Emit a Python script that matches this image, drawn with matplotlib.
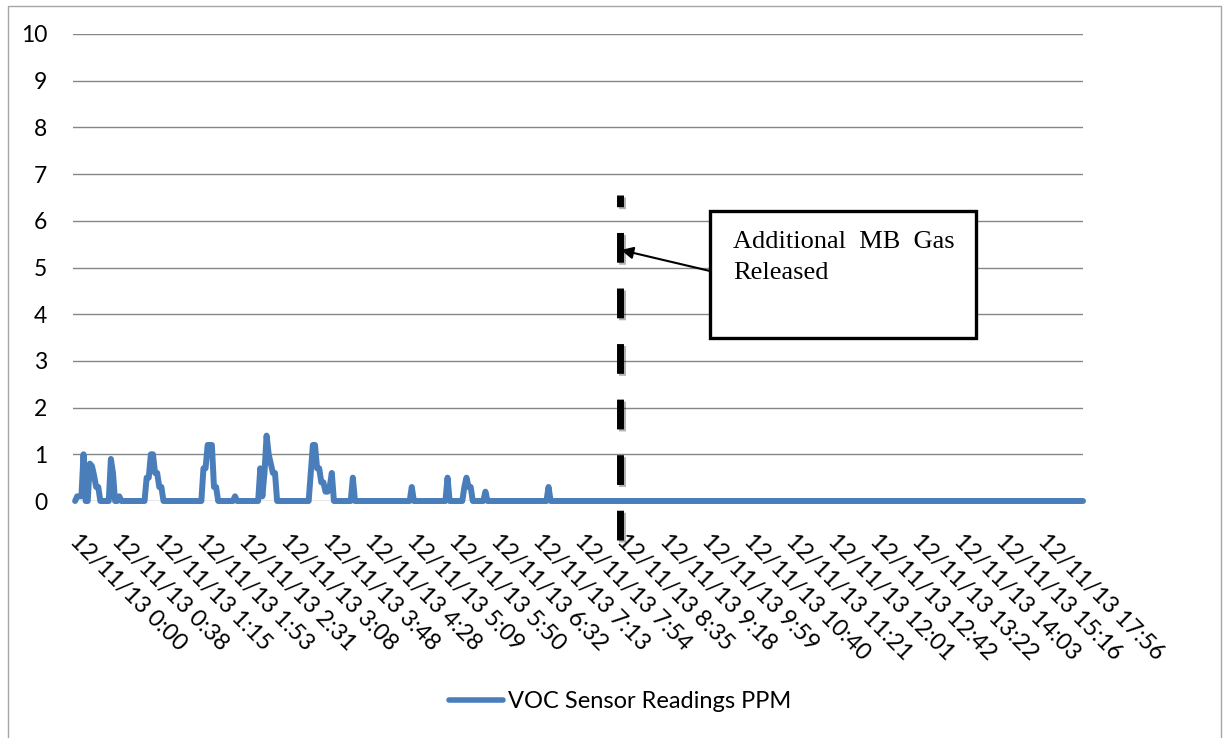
import numpy as np
import matplotlib
matplotlib.use('Agg')
import matplotlib.pyplot as plt
import matplotlib.patheffects as pe
from matplotlib.patches import Rectangle
from matplotlib.lines import Line2D
from matplotlib.transforms import ScaledTranslation, blended_transform_factory

plt.rcParams['font.family'] = ['Lato', 'DejaVu Sans']

# readings are plotted by sample index, a date label every 20 samples
n_points = 480
label_every = 20
date_prefix = '12/11/13 '
time_labels = ['0:00', '0:38', '1:15', '1:53', '2:31', '3:08', '3:48', '4:28',
               '5:09', '5:50', '6:32', '7:13', '7:54', '8:35', '9:18', '9:59',
               '10:40', '11:21', '12:01', '12:42', '13:22', '14:03', '15:16', '17:56']

# non-zero readings (sample index -> ppm), everything else reads 0
spike_idx = [1, 2, 3, 4,
             7, 8, 9, 10, 11,
             17, 18, 21,
             34, 35, 36, 37, 38, 39, 40, 41,
             61, 62, 63, 64, 65, 66, 67,
             76,
             88, 89, 90, 91, 92, 93, 94, 95,
             112, 113, 114, 115, 116, 117, 118, 119, 120, 121, 122,
             132, 160, 177,
             185, 186, 187, 188,
             195, 225]
spike_ppm = [0.1, 0.1, 0.1, 1.0,
             0.8, 0.75, 0.55, 0.3, 0.3,
             0.9, 0.6, 0.1,
             0.5, 0.5, 1.0, 1.0, 0.6, 0.6, 0.3, 0.3,
             0.7, 0.7, 1.2, 1.2, 1.2, 0.3, 0.3,
             0.1,
             0.7, 0.1, 0.6, 1.4, 1.0, 0.8, 0.6, 0.6,
             0.6, 1.2, 1.2, 0.7, 0.7, 0.4, 0.4, 0.2, 0.2, 0.3, 0.6,
             0.5, 0.3, 0.5,
             0.3, 0.5, 0.3, 0.3,
             0.2, 0.3]

readings = np.zeros(n_points)
readings[spike_idx] = spike_ppm

W, H = 1225, 738
blue = '#4a7ebb'

fig = plt.figure(figsize=(W / 100, H / 100), dpi=100)
ax = fig.add_axes([73 / W, 1 - 501 / H, 1010 / W, 467 / H])

x = np.arange(n_points)
ax.plot(x, readings, color=blue, lw=4.3, solid_joinstyle='round',
        solid_capstyle='round', label='VOC Sensor Readings PPM', zorder=3,
        clip_on=False)

ax.set_xlim(-1, n_points - 1)
ax.set_ylim(0, 10)
ax.set_yticks(range(11))
ax.yaxis.grid(True, color='#868686', lw=1.0)
ax.set_axisbelow(True)
for s in ax.spines.values():
    s.set_visible(False)
ax.tick_params(axis='y', length=0, pad=18.5, labelsize=16.5)
ax.set_xticks([])

# rotated date labels, text starts just below/left of each category
trans = blended_transform_factory(ax.transData, ax.transAxes) + \
    ScaledTranslation(-6 / 100, -41 / 100, fig.dpi_scale_trans)
for k, lab in enumerate(time_labels):
    ax.text(k * label_every, 0, date_prefix + lab, transform=trans,
            rotation=-45, rotation_mode='anchor', ha='left', va='baseline',
            fontsize=16.8, clip_on=False)

leg = fig.legend(loc='center', bbox_to_anchor=(620 / W, 1 - 702 / H), frameon=False,
                 handlelength=2.3, handletextpad=0.2, fontsize=17)
leg.get_lines()[0].set_linewidth(4.0)

# dashed marker for the gas release
mark = Line2D([619.5 / W, 619.5 / W], [1 - 540 / H, 1 - 195 / H],
              transform=fig.transFigure, color='black', lw=5.0,
              linestyle=(0, (30 / 7, 26 / 7)), dash_capstyle='butt',
              path_effects=[pe.SimpleLineShadow(offset=(1.5, -1.5), alpha=0.3),
                            pe.Normal()])
fig.add_artist(mark)

box = Rectangle((710 / W, 1 - 338 / H), 266 / W, 127 / H, transform=fig.transFigure,
                facecolor='white', edgecolor='black', lw=2.4,
                path_effects=[pe.SimplePatchShadow(offset=(1.5, -1.5), alpha=0.3),
                              pe.Normal()])
fig.add_artist(box)
fig.text(733 / W, 1 - 248 / H, 'Additional  MB  Gas', family='Liberation Serif',
         fontsize=19, va='baseline')
fig.text(733 / W, 1 - 279 / H, 'Released', family='Liberation Serif',
         fontsize=19, va='baseline')
ax.annotate('', xy=(621 / W, 1 - 250 / H), xycoords='figure fraction',
            xytext=(710 / W, 1 - 271 / H), textcoords='figure fraction',
            arrowprops=dict(arrowstyle='-|>', color='black', lw=1.5,
                            mutation_scale=18, shrinkA=0, shrinkB=0))

# thin chart border
fig.add_artist(Rectangle((8 / W, -0.02), 1213 / W, 1.02 - 6 / H,
                         transform=fig.transFigure, fill=False,
                         edgecolor='#a6a6a6', lw=1.0))

fig.savefig('out.png', dpi=100)
